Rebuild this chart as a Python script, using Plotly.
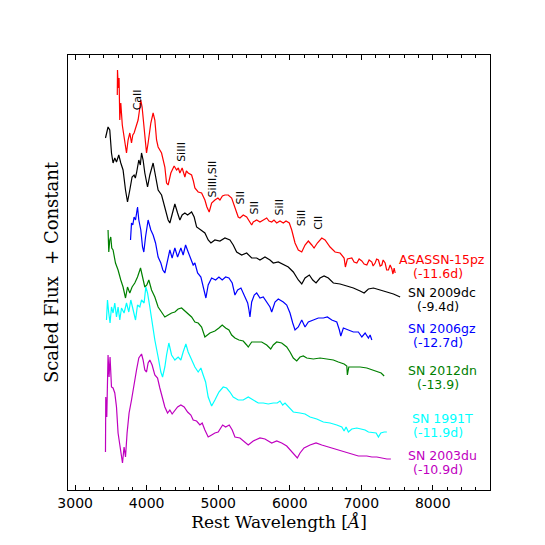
import plotly.graph_objects as go

# ---------------- data (wavelength in Angstrom, scaled flux + constant) ----------------
asassn15pz_wave = [3589, 3592, 3603, 3614, 3624, 3638, 3659, 3694, 3718, 3740, 3764, 3788, 3806, 3824,
                   3858, 3880, 3904, 3918, 3936, 3964, 3998, 4020, 4058, 4090, 4114, 4138, 4160, 4208,
                   4233, 4254, 4278, 4300, 4338, 4384, 4418, 4443, 4464, 4496, 4534, 4555, 4580, 4628,
                   4653, 4674, 4720, 4768, 4814, 4842, 4874, 4908, 4954, 4996, 5024, 5059, 5094, 5140,
                   5188, 5234, 5280, 5304, 5350, 5398, 5420, 5468, 5490, 5538, 5584, 5630, 5678, 5710,
                   5748, 5780, 5818, 5864, 5910, 5948, 5994, 6028, 6074, 6120, 6168, 6214, 6260, 6308,
                   6340, 6386, 6448, 6494, 6564, 6634, 6704, 6760, 6778, 6806, 6868, 6900, 6938, 6970,
                   7008, 7040, 7078, 7110, 7148, 7166, 7194, 7215, 7240, 7264, 7288, 7306, 7334, 7355,
                   7380, 7404, 7428, 7443, 7460, 7474]
asassn15pz_flux = [39.5, 42.0, 40.2, 41.2, 37.0, 38.7, 36.5, 34.7, 33.7, 35.0, 35.7, 34.7, 35.5, 35.7,
                   36.5, 37.0, 38.2, 39.0, 38.3, 36.3, 33.7, 34.7, 36.7, 37.7, 37.0, 35.0, 34.3, 33.7,
                   33.0, 32.3, 30.7, 30.5, 31.7, 32.4, 32.0, 32.2, 31.7, 32.2, 31.3, 31.9, 31.7, 31.5,
                   30.9, 30.2, 29.8, 29.7, 29.0, 28.3, 27.8, 28.7, 29.0, 29.2, 29.0, 29.4, 29.5, 29.5,
                   29.2, 28.2, 27.3, 27.2, 27.5, 27.3, 27.0, 26.5, 26.8, 27.0, 26.8, 27.0, 27.2, 26.9,
                   26.8, 27.0, 26.7, 26.9, 26.7, 26.9, 26.7, 26.0, 24.7, 24.0, 23.8, 24.5, 24.9, 24.5,
                   24.2, 24.7, 25.2, 25.0, 24.3, 23.8, 23.7, 23.2, 22.3, 23.1, 23.2, 22.8, 22.7, 23.1,
                   22.9, 22.6, 22.5, 23.0, 22.8, 22.4, 22.7, 23.1, 23.0, 22.4, 22.5, 23.0, 22.7, 22.0,
                   22.0, 22.5, 22.1, 21.6, 22.2, 21.7]

sn2009dc_wave = [3424, 3460, 3484, 3508, 3530, 3554, 3578, 3610, 3638, 3670, 3704, 3732, 3764, 3796,
                 3824, 3841, 3858, 3890, 3911, 3928, 3950, 3974, 4012, 4044, 4090, 4124, 4160, 4208,
                 4254, 4300, 4324, 4356, 4394, 4432, 4464, 4496, 4534, 4572, 4628, 4664, 4698, 4758,
                 4814, 4860, 4898, 4954, 5024, 5094, 5164, 5210, 5258, 5328, 5398, 5468, 5538, 5584,
                 5654, 5724, 5770, 5840, 5902, 5980, 6050, 6120, 6168, 6214, 6274, 6322, 6368, 6424,
                 6480, 6540, 6610, 6704, 6798, 6890, 6984, 7040, 7100, 7170, 7264, 7358, 7450, 7544]
sn2009dc_flux = [35.2, 36.3, 36.0, 33.7, 32.7, 33.2, 32.8, 33.5, 32.7, 32.0, 30.0, 28.8, 30.0, 31.3,
                 31.5, 31.2, 31.7, 33.0, 32.5, 33.7, 33.0, 31.7, 30.3, 31.5, 32.7, 31.3, 30.0, 29.5,
                 28.3, 27.0, 26.7, 27.7, 28.6, 27.7, 27.0, 27.5, 27.7, 27.5, 27.8, 27.3, 26.3, 26.0,
                 25.7, 25.0, 24.7, 25.0, 24.9, 25.2, 25.0, 24.5, 23.8, 23.5, 23.7, 23.2, 23.2, 23.0,
                 23.3, 23.0, 22.7, 22.8, 22.6, 22.3, 21.8, 21.0, 20.6, 21.2, 21.5, 21.0, 20.7, 21.2,
                 21.4, 21.2, 20.7, 20.6, 20.4, 20.2, 19.9, 19.7, 20.1, 20.2, 20.0, 19.8, 19.6, 19.3]

sn2006gz_wave = [3774, 3788, 3806, 3824, 3844, 3858, 3872, 3890, 3918, 3942, 3960, 3984, 4002, 4020,
                 4058, 4090, 4124, 4160, 4198, 4226, 4254, 4292, 4324, 4356, 4394, 4432, 4478, 4510,
                 4544, 4580, 4618, 4650, 4674, 4712, 4758, 4790, 4828, 4860, 4908, 4964, 5010, 5056,
                 5104, 5150, 5196, 5234, 5272, 5318, 5364, 5412, 5430, 5444, 5468, 5504, 5538, 5584,
                 5630, 5678, 5724, 5748, 5794, 5840, 5910, 5958, 6004, 6042, 6074, 6120, 6168, 6214,
                 6260, 6330, 6400, 6470, 6526, 6588, 6658, 6694, 6714, 6750, 6820, 6890, 6960, 7008,
                 7054, 7100, 7124, 7148]
sn2006gz_flux = [25.0, 26.7, 26.5, 27.3, 27.0, 27.8, 28.3, 27.0, 26.0, 24.3, 23.8, 25.3, 26.2, 27.0,
                 26.0, 25.5, 24.7, 23.3, 22.7, 22.0, 21.7, 23.0, 24.0, 23.2, 24.2, 23.3, 24.2, 23.5,
                 24.5, 23.8, 23.0, 22.5, 22.7, 21.7, 21.3, 20.3, 19.2, 20.5, 21.2, 21.0, 21.3, 21.0,
                 21.3, 21.2, 20.7, 19.5, 20.0, 20.2, 19.5, 18.7, 18.0, 17.3, 18.8, 19.5, 19.7, 19.2,
                 19.3, 18.8, 18.3, 17.8, 18.8, 19.1, 18.8, 18.5, 17.7, 16.7, 16.0, 16.3, 17.0, 16.3,
                 16.8, 17.0, 17.2, 17.2, 17.3, 17.0, 16.8, 16.0, 15.4, 16.2, 16.0, 15.8, 15.8, 15.3,
                 15.7, 15.2, 15.5, 15.0]

sn2012dn_wave = [3460, 3470, 3484, 3498, 3512, 3530, 3564, 3600, 3638, 3670, 3704, 3732, 3764, 3796,
                 3834, 3872, 3914, 3942, 3974, 4002, 4030, 4068, 4114, 4160, 4208, 4254, 4300, 4348,
                 4394, 4440, 4488, 4558, 4628, 4674, 4720, 4768, 4814, 4884, 4954, 5010, 5056, 5104,
                 5150, 5188, 5234, 5290, 5350, 5398, 5420, 5468, 5538, 5608, 5678, 5734, 5770, 5818,
                 5888, 5958, 6004, 6050, 6098, 6144, 6190, 6238, 6330, 6424, 6518, 6610, 6680, 6760,
                 6798, 6806, 6826, 6890, 6984, 7078, 7170, 7240, 7278, 7320]
sn2012dn_flux = [26.0, 23.8, 25.0, 25.3, 24.2, 24.0, 22.7, 22.0, 21.0, 20.3, 19.2, 20.3, 19.7, 20.3,
                 20.7, 21.3, 22.2, 21.3, 20.3, 20.5, 21.0, 20.0, 19.3, 18.3, 17.8, 17.3, 17.5, 17.7,
                 17.8, 18.1, 18.2, 17.7, 17.3, 16.8, 16.7, 16.3, 15.3, 15.7, 15.9, 16.2, 16.5, 16.2,
                 16.0, 15.5, 15.2, 15.0, 14.9, 14.5, 14.3, 14.8, 14.8, 14.8, 14.5, 14.1, 14.5, 14.8,
                 14.7, 14.3, 13.8, 13.2, 12.9, 13.3, 13.4, 13.2, 13.1, 13.2, 13.1, 13.0, 12.8, 12.6,
                 12.4, 11.5, 12.3, 12.3, 12.3, 12.2, 12.0, 11.8, 11.7, 11.4]

sn1991t_wave = [3438, 3452, 3470, 3488, 3508, 3530, 3554, 3578, 3600, 3624, 3648, 3684, 3718, 3750,
                3778, 3810, 3844, 3872, 3904, 3928, 3964, 3988, 4012, 4044, 4076, 4114, 4160, 4198,
                4222, 4254, 4278, 4310, 4348, 4394, 4440, 4478, 4510, 4548, 4580, 4628, 4674, 4720,
                4758, 4790, 4824, 4860, 4908, 4954, 5010, 5070, 5118, 5164, 5210, 5280, 5350, 5420,
                5468, 5490, 5560, 5630, 5700, 5770, 5826, 5864, 5902, 5934, 5980, 6050, 6144, 6214,
                6284, 6378, 6470, 6564, 6658, 6728, 6760, 6788, 6820, 6868, 6938, 7008, 7054, 7100,
                7162, 7208, 7240, 7274, 7320, 7358]
sn1991t_flux = [17.0, 19.0, 17.7, 16.7, 18.3, 17.7, 18.7, 17.3, 18.3, 17.0, 18.2, 17.7, 18.7, 17.8,
                19.0, 18.0, 17.0, 18.5, 18.3, 19.0, 18.7, 20.3, 19.7, 18.3, 16.7, 15.0, 13.3, 11.8,
                11.3, 12.3, 13.5, 14.7, 13.5, 13.0, 13.3, 13.0, 13.8, 14.6, 13.8, 13.0, 12.3, 11.8,
                12.2, 11.5, 10.8, 9.3, 8.4, 9.0, 9.8, 10.3, 10.2, 9.8, 9.3, 9.0, 9.0, 9.3,
                9.1, 9.0, 8.7, 8.7, 8.6, 8.7, 8.7, 8.9, 8.5, 8.7, 8.3, 7.8, 7.7, 7.6,
                7.3, 7.1, 6.8, 6.7, 6.5, 6.3, 5.9, 6.3, 5.8, 6.1, 6.2, 6.1, 6.0, 5.8,
                5.7, 5.7, 5.3, 5.7, 5.8, 5.8]

sn2003du_wave = [3424, 3428, 3442, 3460, 3474, 3488, 3508, 3530, 3554, 3578, 3600, 3624, 3648, 3662,
                 3684, 3704, 3726, 3754, 3788, 3824, 3858, 3890, 3928, 3950, 3974, 3998, 4020, 4044,
                 4076, 4114, 4152, 4184, 4222, 4254, 4292, 4324, 4356, 4394, 4432, 4478, 4524, 4572,
                 4618, 4650, 4698, 4744, 4776, 4814, 4860, 4908, 4954, 5000, 5062, 5104, 5154, 5196,
                 5234, 5304, 5360, 5420, 5490, 5584, 5654, 5748, 5818, 5888, 5958, 6028, 6074, 6106,
                 6144, 6200, 6284, 6368, 6448, 6540, 6658, 6774, 6868, 6960, 7078, 7148, 7218, 7288,
                 7358, 7414]
sn2003du_flux = [3.8, 9.3, 7.3, 13.5, 11.3, 13.3, 10.3, 10.2, 9.7, 8.3, 5.7, 4.7, 3.3, 2.7,
                 4.3, 3.3, 5.7, 7.7, 9.0, 10.7, 12.0, 13.2, 13.6, 13.0, 12.0, 11.8, 12.7, 13.0,
                 12.5, 11.5, 11.2, 10.2, 9.2, 8.3, 7.7, 8.0, 7.6, 8.0, 8.3, 8.5, 8.3, 7.8,
                 7.5, 7.0, 6.9, 6.5, 6.7, 6.0, 5.3, 5.5, 5.7, 5.8, 6.5, 6.3, 6.5, 6.0,
                 5.3, 5.2, 4.9, 4.5, 4.9, 5.2, 5.1, 4.7, 4.9, 4.7, 4.4, 3.8, 3.4, 3.2,
                 3.7, 4.2, 4.5, 4.7, 4.5, 4.3, 4.1, 3.8, 3.6, 3.4, 3.4, 3.3, 3.3, 3.2,
                 3.1, 3.1]

names = ["ASASSN-15pz", "SN 2009dc", "SN 2006gz", "SN 2012dn", "SN 1991T", "SN 2003du"]
phases = ["(-11.6d)", "(-9.4d)", "(-12.7d)", "(-13.9)", "(-11.9d)", "(-10.9d)"]
colors = ["#ff0000", "#000000", "#0000ff", "#008000", "#00ffff", "#bf00bf"]
label_mid_y = [22.4, 19.1, 15.45, 11.25, 6.45, 2.75]
waves = [asassn15pz_wave, sn2009dc_wave, sn2006gz_wave, sn2012dn_wave, sn1991t_wave, sn2003du_wave]
fluxes = [asassn15pz_flux, sn2009dc_flux, sn2006gz_flux, sn2012dn_flux, sn1991t_flux, sn2003du_flux]

line_ids = ["CaII", "SiIII", "SiIII,SII", "SII", "SII", "SiII", "SiII", "CII"]
line_id_wave = [3869, 4478, 4919, 5318, 5514, 5850, 6168, 6400]
line_id_y = [39.0, 33.8, 31.1, 29.25, 28.25, 28.25, 27.25, 26.75]

# ---------------- figure ----------------
fig = go.Figure()
for w, f, c, n in zip(waves, fluxes, colors, names):
    fig.add_trace(go.Scatter(x=w, y=f, mode="lines", line=dict(color=c, width=1.2),
                             name=n, showlegend=False, hoverinfo="skip"))

for n, p, c, ym in zip(names, phases, colors, label_mid_y):
    fig.add_annotation(x=8132, y=ym + 0.7, xref="x", yref="y", text=n, showarrow=False,
                       font=dict(family="DejaVu Sans", size=12.5, color=c),
                       xanchor="center", yanchor="middle")
    fig.add_annotation(x=8075, y=ym - 0.72, xref="x", yref="y", text=p, showarrow=False,
                       font=dict(family="DejaVu Sans", size=12.5, color=c),
                       xanchor="center", yanchor="middle")

for t, w, y in zip(line_ids, line_id_wave, line_id_y):
    fig.add_annotation(x=w, y=y, xref="x", yref="y", text=t, showarrow=False, textangle=-90,
                       font=dict(family="DejaVu Sans", size=11, color="black"),
                       xanchor="center", yanchor="middle")

# page body adds an 8px offset, so the figure is drawn 8px smaller with shifted margins
fig.update_layout(
    width=537, height=537,
    margin=dict(l=60, r=55, t=47, b=55),
    paper_bgcolor="white", plot_bgcolor="white",
    showlegend=False,
)
fig.update_xaxes(
    range=[2900, 8800], tickmode="array", tickvals=[3000, 4000, 5000, 6000, 7000, 8000],
    ticks="inside", ticklen=5, tickcolor="black", mirror="allticks",
    showline=True, linecolor="black", linewidth=1, showgrid=False, zeroline=False,
    tickfont=dict(family="DejaVu Sans", size=14, color="black"),
    minor=dict(ticks="inside", ticklen=3, dtick=200, tick0=3000, tickcolor="black", showgrid=False),
    title=dict(text="Rest Wavelength [<i>Å</i>]", font=dict(family="DejaVu Serif", size=17, color="black"),
               standoff=6),
)
fig.update_yaxes(
    range=[0, 43.5], showticklabels=False, ticks="", showgrid=False, zeroline=False,
    showline=True, linecolor="black", linewidth=1, mirror=True,
    title=dict(text="Scaled Flux  + Constant", font=dict(family="DejaVu Serif", size=18, color="black"),
               standoff=3),
)

fig.write_html("out.html")
